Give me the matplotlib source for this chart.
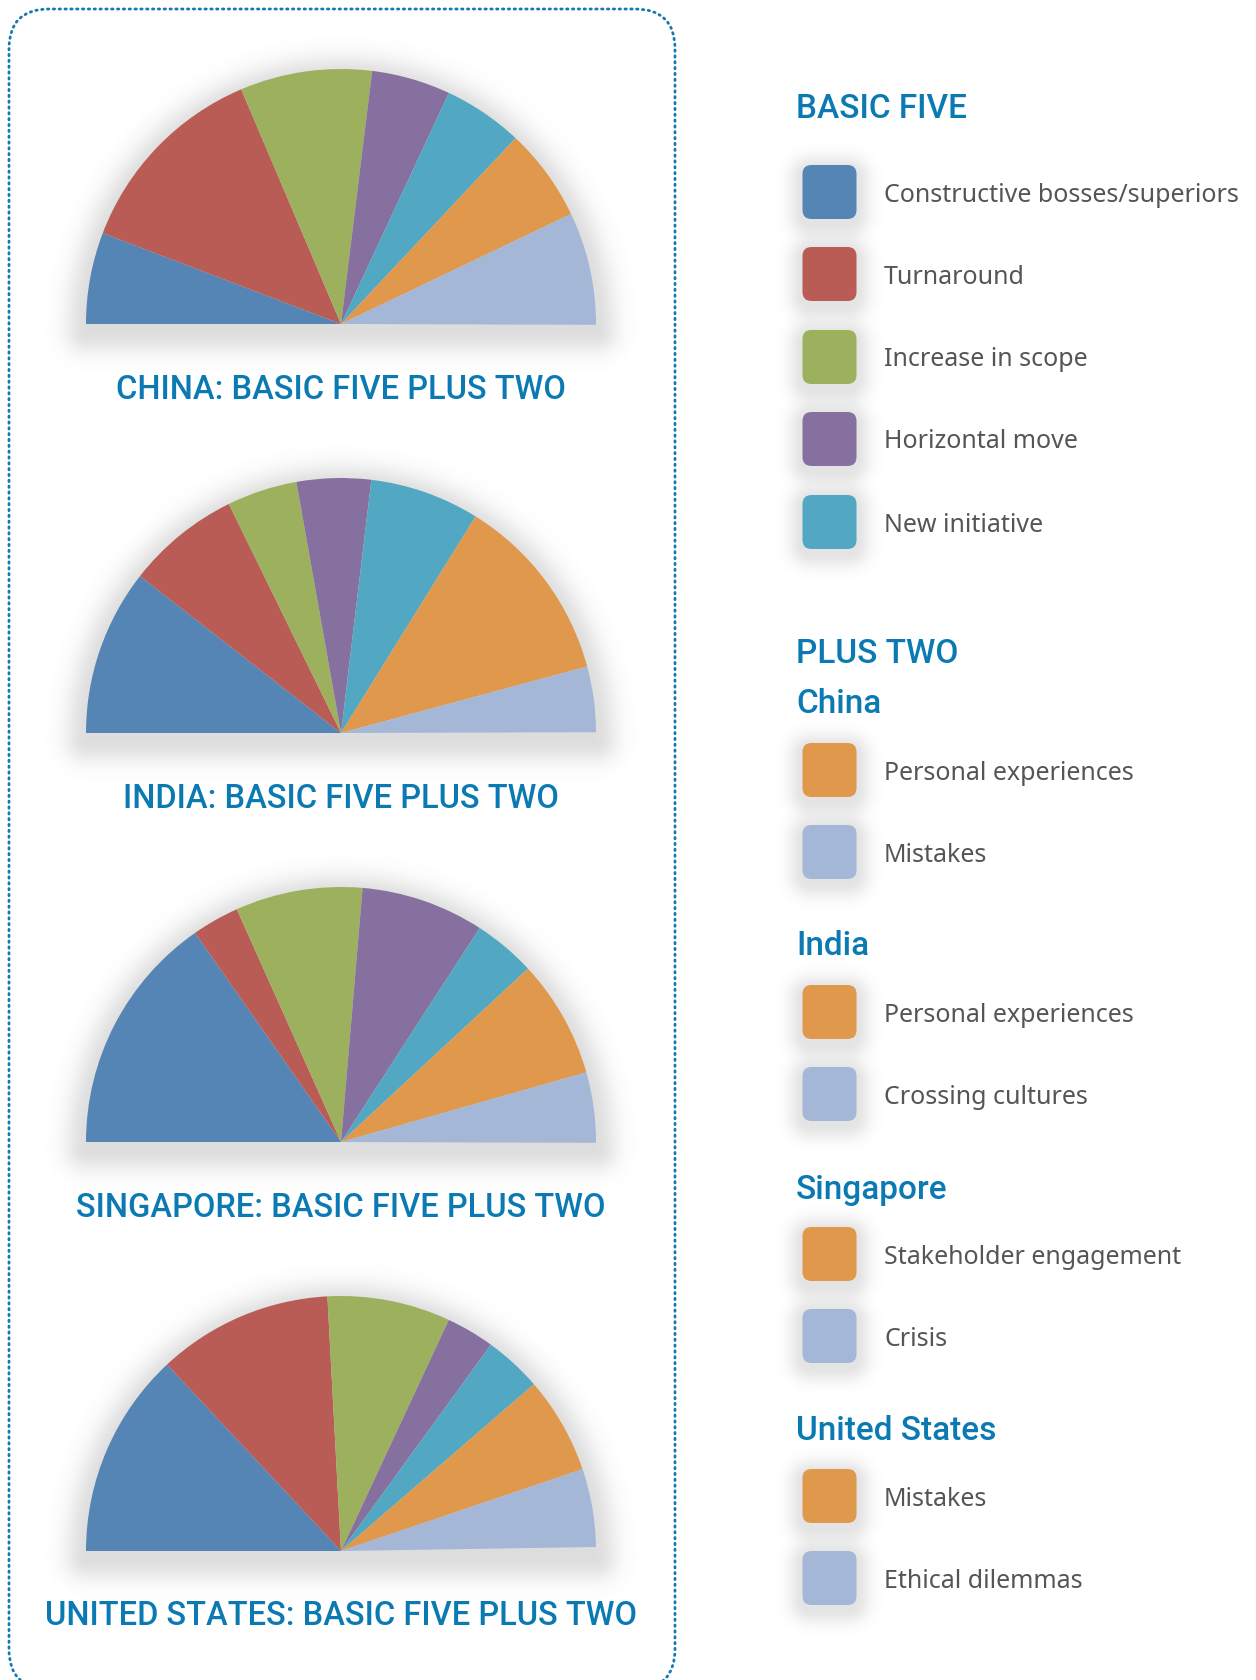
import numpy as np
import matplotlib
matplotlib.use("Agg")
import matplotlib.pyplot as plt
from matplotlib.patches import FancyBboxPatch

# share of each half-pie (percent of the semicircle), order: basic five + two extras
china = [11.6, 25.6, 16.7, 10.0, 10.1, 11.8, 14.3]
india = [21.1, 14.4, 8.9, 9.4, 13.9, 23.9, 8.3]
singapore = [30.6, 6.0, 16.1, 15.6, 7.9, 15.0, 8.9]
united_states = [26.1, 22.2, 15.6, 6.1, 7.3, 12.3, 9.9]

titles = ["CHINA: BASIC FIVE PLUS TWO", "INDIA: BASIC FIVE PLUS TWO",
          "SINGAPORE: BASIC FIVE PLUS TWO", "UNITED STATES: BASIC FIVE PLUS TWO"]

basic_five = ["Constructive bosses/superiors", "Turnaround", "Increase in scope",
              "Horizontal move", "New initiative"]
plus_countries = ["China", "India", "Singapore", "United States"]
plus_china = ["Personal experiences", "Mistakes"]
plus_india = ["Personal experiences", "Crossing cultures"]
plus_singapore = ["Stakeholder engagement", "Crisis"]
plus_us = ["Mistakes", "Ethical dilemmas"]

colors = ["#5585b5", "#b95c55", "#9db05e", "#86709f", "#52a8c2", "#e0984c", "#a5b7d7"]
blue = "#0b7ab3"
grey = "#555555"

W, H = 1256, 1680
fig = plt.figure(figsize=(W / 100, H / 100), dpi=100)
ax = fig.add_axes([0, 0, 1, 1])


def shadow(xs, ys, d, strength, sigma):
    img = np.zeros(d.shape + (4,))
    img[..., :3] = 0.35
    img[..., 3] = strength * np.exp(-(d / sigma) ** 2 / 2)
    ax.imshow(img, extent=(xs[0], xs[-1] + 1, ys[0], ys[-1] + 1), origin="lower",
              zorder=1, interpolation="bilinear")


def pie_shadow(cx, cy, r):
    pad = 60
    xs = np.arange(cx - r - pad, cx + r + pad)
    ys = np.arange(cy - pad, cy + r + pad)
    X, Yg = np.meshgrid(xs, ys)
    oy = cy - 8
    dc = np.hypot(X - cx, Yg - oy) - r
    dh = oy - Yg
    d = np.hypot(np.clip(dc, 0, None), np.clip(dh, 0, None))
    shadow(xs, ys, d, 0.2, 15)


def box_shadow(cx, cy, half, rr):
    pad = 35
    xs = np.arange(cx - half - pad, cx + half + pad)
    ys = np.arange(cy - half - pad, cy + half + pad)
    X, Yg = np.meshgrid(xs, ys)
    qx = np.abs(X - (cx - 1)) - (half - rr)
    qy = np.abs(Yg - (cy - 5)) - (half - rr)
    d = np.hypot(np.clip(qx, 0, None), np.clip(qy, 0, None)) - rr
    d = np.clip(d, 0, None)
    shadow(xs, ys, d, 0.16, 10)


# half pies
radius = 255
cx = 341
bases = [324, 733, 1142, 1551]
title_y = [390, 799, 1208, 1616]
for vals, base, title, ty in zip([china, india, singapore, united_states], bases, titles, title_y):
    cy = H - base
    pie_shadow(cx, cy, radius)
    ax.pie([v / 200 for v in vals], colors=colors, startangle=180, counterclock=False,
           radius=radius, center=(cx, cy), normalize=False,
           wedgeprops=dict(linewidth=0.3, edgecolor="none", zorder=3))
    ax.text(341, H - ty, title, ha="center", va="center", fontsize=23.5, color=blue,
            family="Roboto", fontweight="medium", zorder=4)

# dotted frame round the pies
frame = FancyBboxPatch((9, H - 1689), 666, 1680, boxstyle="round,pad=0,rounding_size=40",
                       fill=False, edgecolor="#1479b3", linewidth=2.0,
                       linestyle=(0, (0.5, 1.6)), capstyle="round", zorder=5)
ax.add_patch(frame)


def legend_item(label, color, y):
    half = 27
    sx = 829.5
    box_shadow(sx, H - y, half, 9)
    ax.add_patch(FancyBboxPatch((sx - half, H - y - half), 2 * half, 2 * half,
                                boxstyle="round,pad=0,rounding_size=9",
                                facecolor=color, edgecolor="none", zorder=3))
    ax.text(884, H - y - 3, label, ha="left", va="center", fontsize=18, color=grey,
            family="Noto Sans", zorder=4)


def header(text, y):
    ax.text(796, H - y - 3, text, ha="left", va="center", fontsize=24, color=blue,
            family="Roboto", fontweight="medium", zorder=4)


header("BASIC FIVE", 106)
for label, color, y in zip(basic_five, colors[:5], [192, 274, 357, 439, 522]):
    legend_item(label, color, y)

header("PLUS TWO", 651)
sub_y = [701, 943, 1187, 1428]
item_y = [(770, 852), (1012, 1094), (1254, 1336), (1496, 1578)]
for name, labels, sy, iy in zip(plus_countries, [plus_china, plus_india, plus_singapore, plus_us],
                                sub_y, item_y):
    header(name, sy)
    legend_item(labels[0], colors[5], iy[0])
    legend_item(labels[1], colors[6], iy[1])

ax.set_xlim(0, W)
ax.set_ylim(0, H)
ax.set_aspect("equal")
ax.axis("off")

fig.savefig("out.png", dpi=100, facecolor="white")
